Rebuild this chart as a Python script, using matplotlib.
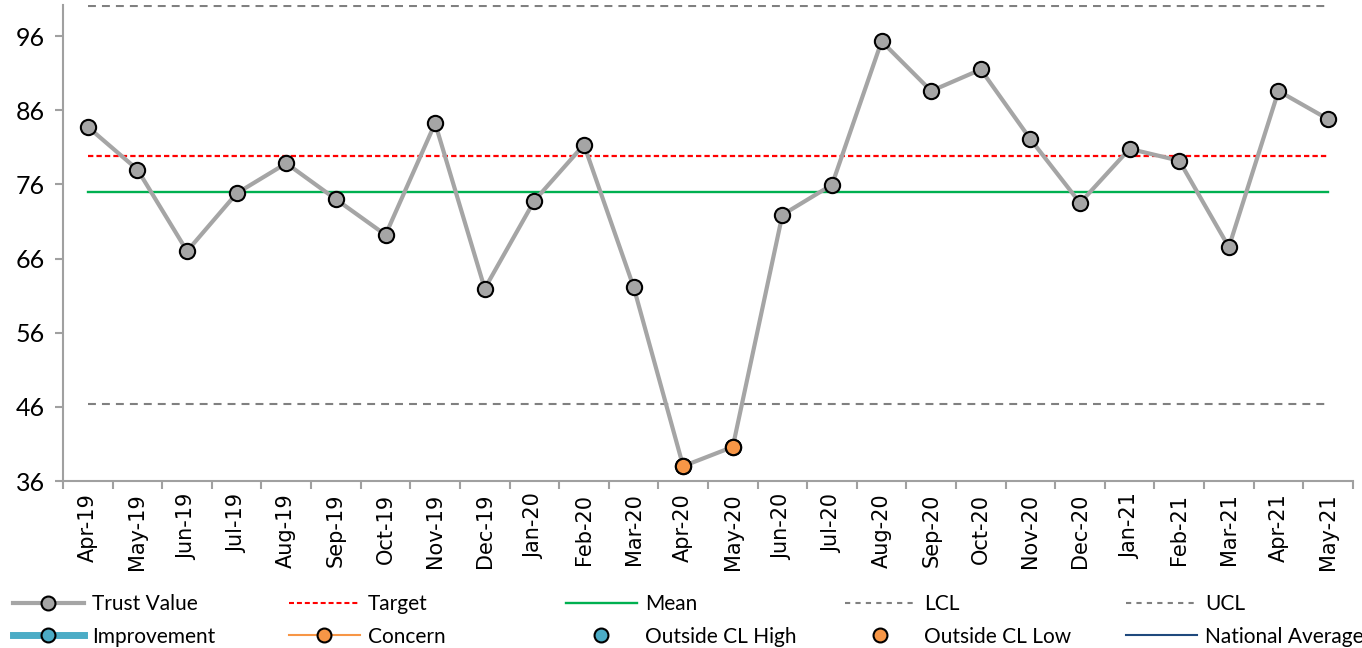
import numpy as np
import matplotlib
matplotlib.use("Agg")
import matplotlib.pyplot as plt
from matplotlib.lines import Line2D

months = ["Apr-19", "May-19", "Jun-19", "Jul-19", "Aug-19", "Sep-19", "Oct-19",
          "Nov-19", "Dec-19", "Jan-20", "Feb-20", "Mar-20", "Apr-20", "May-20",
          "Jun-20", "Jul-20", "Aug-20", "Sep-20", "Oct-20", "Nov-20", "Dec-20",
          "Jan-21", "Feb-21", "Mar-21", "Apr-21", "May-21"]
trust_value = [83.75, 78.0, 67.0, 74.8, 78.85, 74.0, 69.2, 84.25, 61.95, 73.8,
               81.35, 62.2, 38.0, 40.6, 71.9, 75.95, 95.3, 88.6, 91.5, 82.1,
               73.5, 80.8, 79.2, 67.55, 88.6, 84.8]
target = 79.9
mean = 74.95
lcl = 46.4
ucl = 100.05
yticks = [36, 46, 56, 66, 76, 86, 96]

GREY = "#A5A5A5"
ORANGE = "#F79646"
TEAL = "#4BACC6"
NAVY = "#1F497D"
AXIS = "#A0A0A0"

n = len(months)
x = np.arange(n)
vals = np.array(trust_value)
# points below the lower control limit
low = np.where(vals < lcl, vals, np.nan)

fig = plt.figure(figsize=(13.62, 6.48), dpi=100)
ax = fig.add_axes([0.0463, 0.2577, 0.947, 0.7346])

ax.plot(x, np.full(n, ucl), color="#808080", lw=1.5, dashes=(3.8, 2.9))
ax.plot(x, np.full(n, lcl), color="#808080", lw=1.5, dashes=(3.8, 2.9))
ax.plot(x, np.full(n, mean), color="#00B050", lw=1.7)
ax.plot(x, np.full(n, target), color="#FF0000", lw=1.6, dashes=(2.4, 1.4))
ax.plot(x, vals, color=GREY, lw=3, marker="o", ms=11, mfc=GREY, mec="black",
        mew=1.5, zorder=3)
ax.plot(x, low, ls="none", marker="o", ms=11, mfc=ORANGE, mec="black",
        mew=1.5, zorder=4)

ax.set_xlim(-0.5, n - 0.5)
ax.set_ylim(36, 100.2)
ax.set_yticks(yticks)
ax.set_yticklabels([str(v) for v in yticks], family="Lato", fontsize=18)
ax.set_xticks(x)
ax.set_xticklabels(months, rotation=90, family="DejaVu Sans", fontsize=15)
ax.set_xticks(np.arange(n + 1) - 0.5, minor=True)
ax.tick_params(axis="x", which="major", length=0, pad=9)
ax.tick_params(axis="x", which="minor", length=6, width=1.5, color=AXIS)
ax.tick_params(axis="y", length=6, width=1.5, color=AXIS, pad=7)

for s in ["top", "right"]:
    ax.spines[s].set_visible(False)
for s in ["left", "bottom"]:
    ax.spines[s].set_color(AXIS)
    ax.spines[s].set_linewidth(1.5)

mk = dict(marker="o", ms=10, mec="black", mew=1.5)
columns = [
    [(Line2D([], [], color=GREY, lw=3, mfc=GREY, **mk), "Trust Value"),
     (Line2D([], [], color=TEAL, lw=5, mfc=TEAL, **mk), "Improvement")],
    [(Line2D([], [], color="#FF0000", lw=1.5, dashes=(2.4, 1.4)), "Target"),
     (Line2D([], [], color=ORANGE, lw=1.5, mfc=ORANGE, **mk), "Concern")],
    [(Line2D([], [], color="#00B050", lw=1.7), "Mean"),
     (Line2D([], [], ls="none", mfc=TEAL, **mk), "Outside CL High")],
    [(Line2D([], [], color="#808080", lw=1.5, dashes=(2.5, 2.5)), "LCL"),
     (Line2D([], [], ls="none", mfc=ORANGE, **mk), "Outside CL Low")],
    [(Line2D([], [], color="#808080", lw=1.5, dashes=(2.5, 2.5)), "UCL"),
     (Line2D([], [], color=NAVY, lw=1.5), "National Average")],
]
col_x = [0.0095, 0.212, 0.4156, 0.6204, 0.8267]
for cx, entries in zip(col_x, columns):
    handles, labels = zip(*entries)
    fig.legend(handles, labels, loc="upper left", bbox_to_anchor=(cx, 0.083),
               frameon=False, borderpad=0, borderaxespad=0,
               prop={"family": "Lato", "size": 15}, handlelength=3.4,
               handletextpad=0.4, labelspacing=0.6)

fig.savefig("out.png", dpi=100)
